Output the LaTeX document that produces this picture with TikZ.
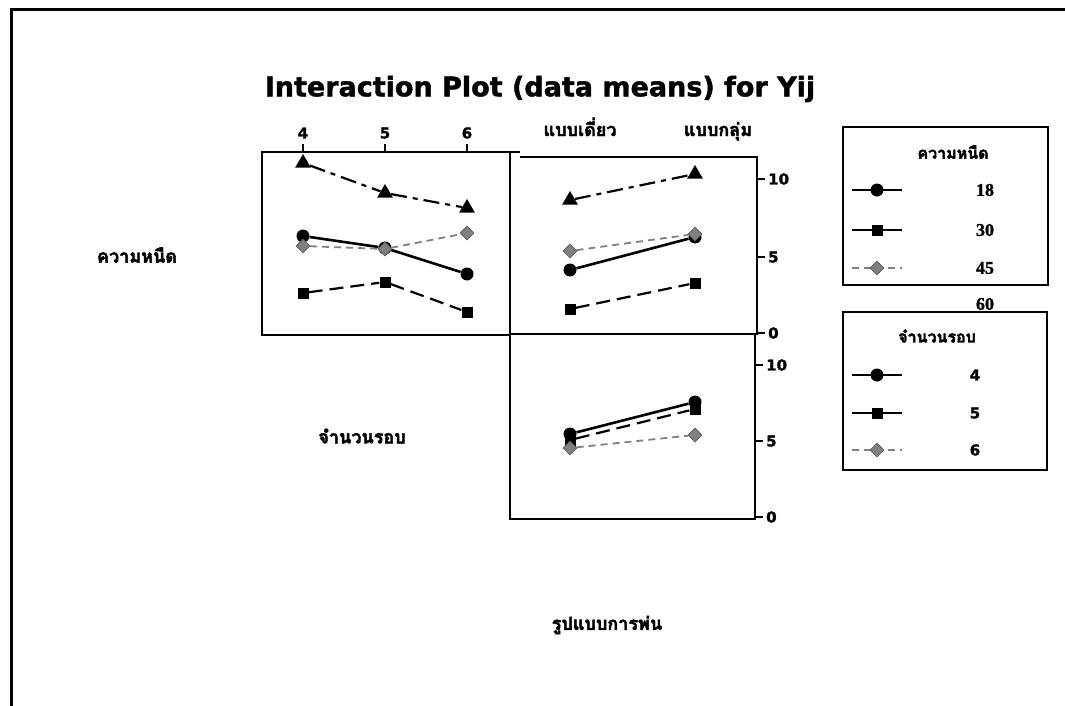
\documentclass[tikz,border=0pt]{standalone}
\usepackage{fontspec}
\setmainfont{DejaVu Sans}
\newfontfamily\thaifont[Script=Thai,BoldFeatures={FakeBold=2.5}]{Loma}
\newfontfamily\numserif[BoldFeatures={FakeBold=1}]{Liberation Serif}
\newfontfamily\titlefont[BoldFeatures={FakeBold=1.5}]{DejaVu Sans}
\usetikzlibrary{shapes.geometric}
\definecolor{dgray}{RGB}{128,128,128}
\tikzset{
  frame/.style={line width=2.4pt},
  mcirc/.style={circle,fill=black,inner sep=0pt,minimum size=13pt},
  msq/.style={rectangle,fill=black,inner sep=0pt,minimum size=11pt},
  mtri/.style={regular polygon,regular polygon sides=3,fill=black,inner sep=0pt,minimum size=18pt},
  mdia/.style={diamond,fill=dgray,draw=dgray!70!black,line width=0.8pt,inner sep=0pt,minimum size=14pt},
  lsolid/.style={line width=2.6pt,black},
  lsq/.style={line width=2.2pt,black,dash pattern=on 14pt off 7pt},
  ldia/.style={line width=1.8pt,dgray,dash pattern=on 7pt off 5pt},
  ltri/.style={line width=2.2pt,black,dash pattern=on 16pt off 6pt on 5pt off 6pt},
  tick/.style={line width=2.2pt},
  ticklab/.style={font=\titlefont\bfseries\fontsize{15}{17}\selectfont,inner sep=0pt},
  thailab/.style={font=\thaifont\bfseries\fontsize{18}{20}\selectfont,inner sep=0pt},
  legnum/.style={font=\numserif\bfseries\fontsize{18}{20}\selectfont,inner sep=0pt},
}
\begin{document}
\begin{tikzpicture}[x=1pt,y=-1pt]
\useasboundingbox (0,0) rectangle (1065,706);
\fill[white] (0,0) rectangle (1065,706);
% outer frame (top and left edges visible)
\draw[line width=3pt] (11,706) -- (11,10) -- (1065,10);

% title
\node[font=\titlefont\bfseries\fontsize{27}{30}\selectfont,inner sep=0pt] (title) at (540,89) {Interaction Plot (data means) for Yij};

% panel 1
\draw[frame] (262,152) rectangle (510,335);
\draw[frame] (510,152) -- (520,152);
% panel 2
\draw[frame] (520,157) -- (757,157) -- (757,334) -- (510,334);
% panel 3
\draw[frame] (510,334) -- (510,519) -- (755,519) -- (755,334);

% top ticks panel 1
\foreach \x/\l in {303/4,385/5,467/6}{
  \draw[tick] (\x,152) -- (\x,144);
  \node[ticklab] (tx\l) at (\x,133) {\l};
}
% right ticks panel 2
\foreach \y/\l/\n in {179/10/a,257/5/b,333/0/c}{
  \draw[tick] (757,\y) -- (765,\y);
  \node[ticklab,anchor=west] (ry\n) at (768,\y) {\l};
}
% right ticks panel 3
\foreach \y/\l/\n in {365/10/a,441/5/b,517/0/c}{
  \draw[tick] (755,\y) -- (763,\y);
  \node[ticklab,anchor=west] (rz\n) at (766,\y) {\l};
}

% column labels
\node[thailab,anchor=base] (c1) at (580,136) {แบบเดี่ยว};
\node[thailab,anchor=base] (c2) at (718,136) {แบบกลุ่ม};
% row labels
\node[thailab] (r1) at (137,255) {ความหนืด};
\node[thailab] (r2) at (362,436) {จำนวนรอบ};
\node[thailab] (r3) at (607,625) {รูปแบบการพ่น};

% ---- panel 1 data (ความหนืด vs จำนวนรอบ)
\node[mtri] (a60a) at (303,163) {};
\node[mtri] (a60b) at (385,193) {};
\node[mtri] (a60c) at (467,208) {};
\node[mcirc] (a18a) at (303,236) {};
\node[mcirc] (a18b) at (385,248) {};
\node[mcirc] (a18c) at (467,274) {};
\node[msq] (a30a) at (303,293) {};
\node[msq] (a30b) at (385,282) {};
\node[msq] (a30c) at (467,312) {};
\draw[ltri] (a60a) -- (a60b) -- (a60c);
\draw[lsolid] (a18a) -- (a18b) -- (a18c);
\draw[lsq] (a30a) -- (a30b) -- (a30c);
\node[mdia] (a45a) at (303,246) {};
\node[mdia] (a45b) at (385,249) {};
\node[mdia] (a45c) at (467,233) {};
\draw[ldia] (a45a) -- (a45b) -- (a45c);

% ---- panel 2 data (ความหนืด vs รูปแบบ)
\node[mtri] (b60a) at (570,200) {};
\node[mtri] (b60b) at (695,174) {};
\node[mcirc] (b18a) at (570,270) {};
\node[mcirc] (b18b) at (695,237) {};
\node[msq] (b30a) at (570,309) {};
\node[msq] (b30b) at (695,283) {};
\draw[ltri] (b60a) -- (b60b);
\draw[lsolid] (b18a) -- (b18b);
\draw[lsq] (b30a) -- (b30b);
\node[mdia] (b45a) at (570,251) {};
\node[mdia] (b45b) at (695,234) {};
\draw[ldia] (b45a) -- (b45b);

% ---- panel 3 data (จำนวนรอบ vs รูปแบบ)
\node[mcirc] (c4a) at (570,434) {};
\node[mcirc] (c4b) at (695,402) {};
\node[msq] (c5a) at (570,440) {};
\node[msq] (c5b) at (695,409) {};
\draw[lsolid] (c4a) -- (c4b);
\draw[lsq] (c5a) -- (c5b);
\node[mdia] (c6a) at (570,448) {};
\node[mdia] (c6b) at (695,435) {};
\draw[ldia] (c6a) -- (c6b);

% ---- legend 1
\node[legnum] (l60) at (985,304) {60};
\fill[white] (843,127) rectangle (1048,285);
\draw[frame] (843,127) rectangle (1048,285);
\node[thailab,font=\thaifont\bfseries\fontsize{16}{18}\selectfont] (lt1) at (953,152) {ความหนืด};
\coordinate (l1a) at (852,190); \coordinate (l1b) at (902,190);
\draw[lsolid] (l1a) -- (l1b); \node[mcirc] (l1m) at (877,190) {};
\node[legnum] (l18) at (985,190) {18};
\coordinate (l2a) at (852,230); \coordinate (l2b) at (902,230);
\draw[lsolid] (l2a) -- (l2b); \node[msq] (l2m) at (877,230) {};
\node[legnum] (l30) at (985,230) {30};
\coordinate (l3a) at (852,268); \coordinate (l3b) at (902,268);
\draw[ldia] (l3a) -- (l3b); \node[mdia] (l3m) at (877,268) {};
\node[legnum] (l45) at (985,268) {45};

% ---- legend 2
\fill[white] (843,312) rectangle (1047,470);
\draw[frame] (843,312) rectangle (1047,470);
\node[thailab,font=\thaifont\bfseries\fontsize{16}{18}\selectfont] (lt2) at (937,336) {จำนวนรอบ};
\coordinate (m1a) at (852,375); \coordinate (m1b) at (902,375);
\draw[lsolid] (m1a) -- (m1b); \node[mcirc] (m1m) at (877,375) {};
\node[ticklab] (m4) at (975,375) {4};
\coordinate (m2a) at (852,413); \coordinate (m2b) at (902,413);
\draw[lsolid] (m2a) -- (m2b); \node[msq] (m2m) at (877,413) {};
\node[ticklab] (m5) at (975,413) {5};
\coordinate (m3a) at (852,450); \coordinate (m3b) at (902,450);
\draw[ldia] (m3a) -- (m3b); \node[mdia] (m3m) at (877,450) {};
\node[ticklab] (m6) at (975,450) {6};
\end{tikzpicture}
\end{document}
